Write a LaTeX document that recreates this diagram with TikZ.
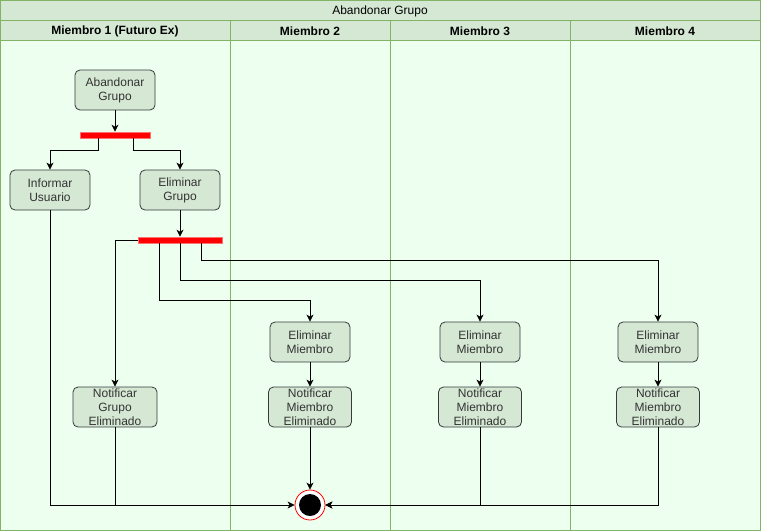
\documentclass[tikz,border=0pt]{standalone}
\usepackage{fontspec}
\setmainfont{Liberation Sans}
\usetikzlibrary{arrows.meta}
\definecolor{laneHead}{HTML}{D5E8D4}
\definecolor{laneLine}{HTML}{82B366}
\definecolor{laneBody}{HTML}{EDFFEF}
\definecolor{actFill}{HTML}{D5E8D4}
\definecolor{actLine}{HTML}{36393D}
\definecolor{actText}{HTML}{333333}
\definecolor{barRed}{HTML}{FF0000}
\definecolor{barEdge}{HTML}{FF7070}

\begin{document}
\begin{tikzpicture}[x=1pt,y=-1pt]

        \tikzset{
            action/.style={
                rectangle,
                rounded corners=5pt,
                draw=actLine,
                fill=actFill,
                text=actText,
                line width=0.8pt,
                minimum width=80pt,
                minimum height=40pt,
                inner sep=0pt,
                align=center,
                font=\fontsize{12}{14}\selectfont
            },
            forkbar/.style={
                rectangle,
                fill=barRed,
                draw=barEdge,
                line width=0.6pt,
                minimum height=6pt,
                inner sep=0pt
            },
            flow/.style={
                draw=black,
                line width=0.8pt,
                -{Stealth[length=7pt,width=7pt,inset=2pt]}
            },
            plain/.style={draw=black, line width=0.8pt},
            head/.style={font=\bfseries\fontsize{12}{14}\selectfont},
            titletext/.style={font=\fontsize{12}{14}\selectfont}
        }

        \useasboundingbox (0,0) rectangle (761,531);

        \fill[laneBody] (0,40) rectangle (760,530);
        \fill[laneHead] (0,0) rectangle (760,40);
        \draw[laneLine, line width=1pt] (0,0) rectangle (760,530);
        \draw[laneLine] (0,20) -- (760,20) (0,40) -- (760,40);
        \foreach \x in {230,390,570} {
            \draw[laneLine] (\x,20) -- (\x,530);
        }

        \node[titletext] (titulo) at (380,11) {Abandonar Grupo};
        \node[head] (carril1) at (115,31) {Miembro 1 (Futuro Ex)};
        \node[head] (carril2) at (310,31) {Miembro 2};
        \node[head] (carril3) at (480,31) {Miembro 3};
        \node[head] (carril4) at (665,31) {Miembro 4};

        \node[action] (abandonar) at (115,90) {Abandonar\\Grupo};
        \node[forkbar, minimum width=70pt] (barra1) at (115,135) {};
        \node[action] (informar) at (50,190) {Informar\\Usuario};
        \node[action] (elimgrupo) at (180,190) {Eliminar\\Grupo};
        \node[forkbar, minimum width=84pt] (barra2) at (180,240) {};

        \node[action] (elim2) at (310,342) {Eliminar\\Miembro};
        \node[action] (elim3) at (480,342) {Eliminar\\Miembro};
        \node[action] (elim4) at (658,342) {Eliminar\\Miembro};

        \node[action, minimum width=84pt] (notifgrupo) at (115,407) {Notificar\\Grupo\\Eliminado};
        \node[action, minimum width=83pt] (notif2) at (310,407) {Notificar\\Miembro\\Eliminado};
        \node[action, minimum width=83pt] (notif3) at (480,407) {Notificar\\Miembro\\Eliminado};
        \node[action, minimum width=83pt] (notif4) at (658,407) {Notificar\\Miembro\\Eliminado};

        \node[circle, draw=red, fill=white, line width=0.8pt, minimum size=30pt, inner sep=0pt] (fin) at (310,505) {};
        \node[circle, fill=black, minimum size=22pt, inner sep=0pt] (nucleo) at (fin.center) {};

        \draw[flow] (abandonar) -- (barra1);
        \draw[flow] ([xshift=-17pt]barra1.south) -- ++(0,12) -| (informar);
        \draw[flow] ([xshift=18pt]barra1.south) -- ++(0,12) -| (elimgrupo);
        \draw[flow] (elimgrupo) -- (barra2);

        \draw[flow] (barra2.west) -| (notifgrupo);
        \draw[flow] ([xshift=-21pt]barra2.south) -- ++(0,57) -| (elim2);
        \draw[flow] (barra2.south) -- ++(0,37) -| (elim3);
        \draw[flow] ([xshift=21pt]barra2.south) -- ++(0,17) -| (elim4);

        \draw[flow] (elim2) -- (notif2);
        \draw[flow] (elim3) -- (notif3);
        \draw[flow] (elim4) -- (notif4);

        \draw[flow] (informar.south) |- (fin.west);
        \draw[plain] (notifgrupo.south) -- (notifgrupo.south |- fin.west);
        \draw[flow] (notif2) -- (fin);
        \draw[flow] (notif3.south) |- (fin.east);
        \draw[flow] (notif4.south) |- (fin.east);

\end{tikzpicture}
\end{document}
